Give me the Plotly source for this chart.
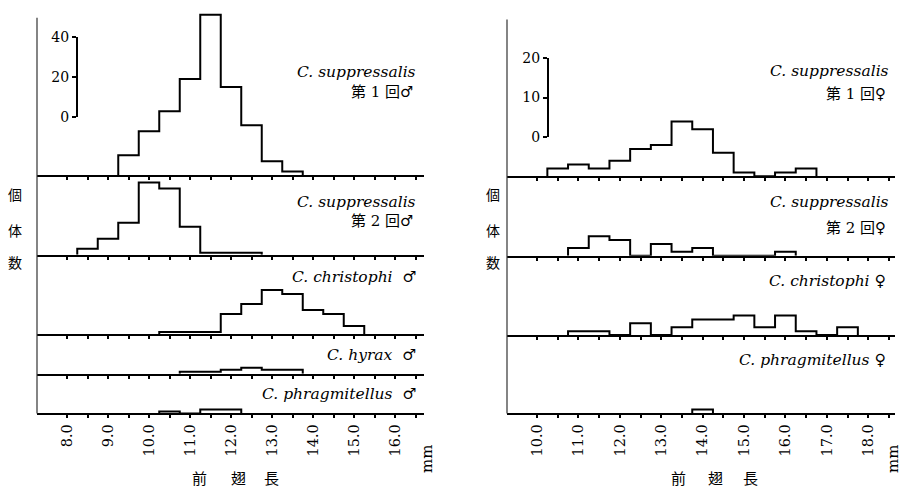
import plotly.graph_objects as go

W, H = 902, 495

# ---------------- data ----------------
left_tick_vals = [8.0, 8.5, 9.0, 9.5, 10.0, 10.5, 11.0, 11.5, 12.0, 12.5,
                  13.0, 13.5, 14.0, 14.5, 15.0, 15.5, 16.0, 16.5]
left_tick_text = ["8.0", "", "9.0", "", "10.0", "", "11.0", "", "12.0", "",
                  "13.0", "", "14.0", "", "15.0", "", "16.0", ""]
right_tick_vals = [10.0, 10.5, 11.0, 11.5, 12.0, 12.5, 13.0, 13.5, 14.0, 14.5,
                   15.0, 15.5, 16.0, 16.5, 17.0, 17.5, 18.0, 18.5]
right_tick_text = ["10.0", "", "11.0", "", "12.0", "", "13.0", "", "14.0", "",
                   "15.0", "", "16.0", "", "17.0", "", "18.0", ""]

# male panels (left column), bin centres (mm) and counts
L1_centers = [9.5, 10.0, 10.5, 11.0, 11.5, 12.0, 12.5, 13.0, 13.5]
L1_counts = [10, 22, 32, 48, 80, 44, 25, 7, 2]
L2_centers = [8.5, 9.0, 9.5, 10.0, 10.5, 11.0, 11.5, 12.0, 12.5]
L2_counts = [3, 8, 16, 36, 33, 14, 1, 1, 1]
L3_centers = [10.5, 11.0, 11.5, 12.0, 12.5, 13.0, 13.5, 14.0, 14.5, 15.0]
L3_counts = [1, 1, 1, 10, 15, 22, 20, 12, 10, 4]
L4_centers = [11.0, 11.5, 12.0, 12.5, 13.0, 13.5]
L4_counts = [1, 1, 2, 3, 2, 2]
L5_centers = [10.5, 11.0, 11.5, 12.0]
L5_counts = [1, 0, 2, 2]

# female panels (right column)
R1_centers = [10.5, 11.0, 11.5, 12.0, 12.5, 13.0, 13.5, 14.0, 14.5, 15.0, 15.5, 16.0, 16.5]
R1_counts = [2, 3, 2, 4, 7, 8, 14, 12, 6, 1, 0, 1, 2]
R2_centers = [11.0, 11.5, 12.0, 12.5, 13.0, 13.5, 14.0, 14.5, 15.0, 15.5, 16.0]
R2_counts = [2, 5, 4, 0, 3, 1, 2, 0, 0, 0, 1]
R3_centers = [11.0, 11.5, 12.0, 12.5, 13.0, 13.5, 14.0, 14.5, 15.0, 15.5, 16.0, 16.5, 17.0, 17.5]
R3_counts = [1, 1, 0, 3, 0, 2, 4, 4, 5, 2, 5, 1, 0, 2]
R4_centers = [14.0]
R4_counts = [1]

left_names = ["C. suppressalis", "C. suppressalis", "C. christophi", "C. hyrax", "C. phragmitellus"]
left_subs = ["第 1 回♂", "第 2 回♂", None, None, None]
right_names = ["C. suppressalis", "C. suppressalis", "C. christophi", "C. phragmitellus"]
right_subs = ["第 1 回♀", "第 2 回♀", None, None]
male, female = "♂", "♀"

scale_left_vals = [0, 20, 40]
scale_right_vals = [0, 10, 20]

ylabel_chars = ["個", "体", "数"]
xlabel_chars = ["前", "翅", "長"]
unit = "mm"

BIN = 0.5

# ---------------- layout geometry (pixels) ----------------
def px_x(p):
    return p / W

def px_y(p):
    return 1 - p / H

L_PPC = 83 / 40.0   # px per count, left column
R_PPC = 81 / 20.0   # px per count, right column

left_x = (37, 424, 8.0, 67, 41.0)     # left px, right px, ref value, ref px, px/mm
right_x = (507, 895, 10.0, 537, 41.4)

left_rows = [(173, 3), (255, 173), (337, 255), (378, 337), (419, 378)]
right_rows = [(174, 3), (256, 174), (338, 256), (419, 338)]

serif = "DejaVu Serif, Liberation Serif, serif"
mixed = "DejaVu Serif, DejaVu Sans, Noto Sans CJK JP"
cjk = "Noto Sans CJK JP"

fig = go.Figure()
layout = dict(width=W, height=H, autosize=False,
              margin=dict(l=0, r=0, t=0, b=0),
              paper_bgcolor="white", plot_bgcolor="rgba(0,0,0,0)",
              showlegend=False)

def step_xy(centers, counts):
    edges = [c - BIN / 2 for c in centers] + [centers[-1] + BIN / 2]
    xs = [edges[0]] + edges[:-1] + [edges[-1]]
    ys = [0] + list(counts) + [0]
    return xs, ys

def add_panel(idx, centers, counts, xgeom, row, ppc, bottom, tvals, ttext):
    x0p, x1p, ref, refpx, pxmm = xgeom
    xr = [ref - (refpx - x0p) / pxmm, ref + (x1p - refpx) / pxmm]
    base, top = row
    yr = [0, (base - top) / ppc]
    xs, ys = step_xy(centers, counts)
    sfx = "" if idx == 1 else str(idx)
    fig.add_trace(go.Scatter(x=xs, y=ys, mode="lines", line_shape="hv",
                             line=dict(color="black", width=2),
                             xaxis="x" + sfx, yaxis="y" + sfx, hoverinfo="skip"))
    layout["xaxis" + sfx] = dict(domain=[px_x(x0p), px_x(x1p)], range=xr,
                                 anchor="y" + sfx, showline=True, linecolor="black",
                                 linewidth=2, ticks="outside", ticklen=3, tickwidth=1.5,
                                 tickcolor="black", tickvals=tvals, ticktext=ttext,
                                 showticklabels=bottom, tickangle=-90,
                                 tickfont=dict(family=serif, size=14.5, color="black"),
                                 showgrid=False, zeroline=False, fixedrange=True)
    layout["yaxis" + sfx] = dict(domain=[px_y(base), px_y(top)], range=yr,
                                 anchor="x" + sfx, visible=False, showgrid=False,
                                 zeroline=False, fixedrange=True)

left_data = [(L1_centers, L1_counts), (L2_centers, L2_counts), (L3_centers, L3_counts),
             (L4_centers, L4_counts), (L5_centers, L5_counts)]
right_data = [(R1_centers, R1_counts), (R2_centers, R2_counts), (R3_centers, R3_counts),
              (R4_centers, R4_counts)]

for i, (c, n) in enumerate(left_data):
    add_panel(i + 1, c, n, left_x, left_rows[i], L_PPC, i == len(left_data) - 1,
              left_tick_vals, left_tick_text)
for i, (c, n) in enumerate(right_data):
    add_panel(i + 6, c, n, right_x, right_rows[i], R_PPC, i == len(right_data) - 1,
              right_tick_vals, right_tick_text)

# scale bars as real axes
def scale_axis(name, xname, vals, dom_px, pos_px):
    fig.add_trace(go.Scatter(x=[None], y=[None], xaxis=xname, yaxis=name.replace("axis", ""),
                             mode="lines", hoverinfo="skip"))
    layout[name] = dict(domain=[px_y(dom_px[0]), px_y(dom_px[1])],
                        range=[vals[0], vals[-1]], anchor="free", position=px_x(pos_px),
                        side="left", showline=True, linecolor="black", linewidth=2,
                        ticks="outside", ticklen=4, tickwidth=2, tickcolor="black",
                        tickvals=vals, ticktext=[str(v) for v in vals],
                        tickfont=dict(family=serif, size=14, color="black"),
                        showgrid=False, zeroline=False, fixedrange=True)

scale_axis("yaxis10", "x", scale_left_vals, (113, 30), 77)
scale_axis("yaxis11", "x6", scale_right_vals, (133, 52), 548)

shapes = [
    dict(type="line", xref="paper", yref="paper", x0=px_x(37), x1=px_x(37),
         y0=px_y(10), y1=px_y(419), line=dict(color="#333", width=1.2)),
    dict(type="line", xref="paper", yref="paper", x0=px_x(507), x1=px_x(507),
         y0=px_y(12), y1=px_y(419), line=dict(color="#333", width=1.2)),
]
layout["shapes"] = shapes

ann = []
def text(x, y, s, family, size, xanchor="right", angle=0):
    ann.append(dict(x=px_x(x), y=px_y(y), xref="paper", yref="paper", text=s,
                    showarrow=False, xanchor=xanchor, yanchor="middle",
                    textangle=angle, font=dict(family=family, size=size, color="black")))

left_name_y = [(66, 87), (200, 220), (278, None), (359, None), (399, None)]
for i, nm in enumerate(left_names):
    ny, sy = left_name_y[i]
    if left_subs[i]:
        text(418, ny, f"<i>{nm}</i>", serif, 15.5)
        text(416, sy, left_subs[i], mixed, 15)
    else:
        text(418, ny, f"<i>{nm}</i>  {male}", mixed, 15.5)

right_name_y = [(65, 89), (200, 227), (282, None), (364, None)]
for i, nm in enumerate(right_names):
    ny, sy = right_name_y[i]
    if right_subs[i]:
        text(891, ny, f"<i>{nm}</i>", serif, 15.5)
        text(888, sy, right_subs[i], mixed, 15)
    else:
        text(888, ny, f"<i>{nm}</i> {female}", mixed, 15.5)

for cx, ys in [(15, (192, 229, 263)), (493, (192, 229, 263))]:
    for ch, yy in zip(ylabel_chars, ys):
        text(cx, yy, ch, cjk, 14, xanchor="center")

for xs in [(199, 238, 271), (678, 715, 750)]:
    for ch, xx in zip(xlabel_chars, xs):
        text(xx, 485, ch, cjk, 15, xanchor="center")

text(427, 466, unit, serif, 15, xanchor="center", angle=-90)
text(893, 466, unit, serif, 15, xanchor="center", angle=-90)

layout["annotations"] = ann
fig.update_layout(**layout)
fig.write_html("out.html")
